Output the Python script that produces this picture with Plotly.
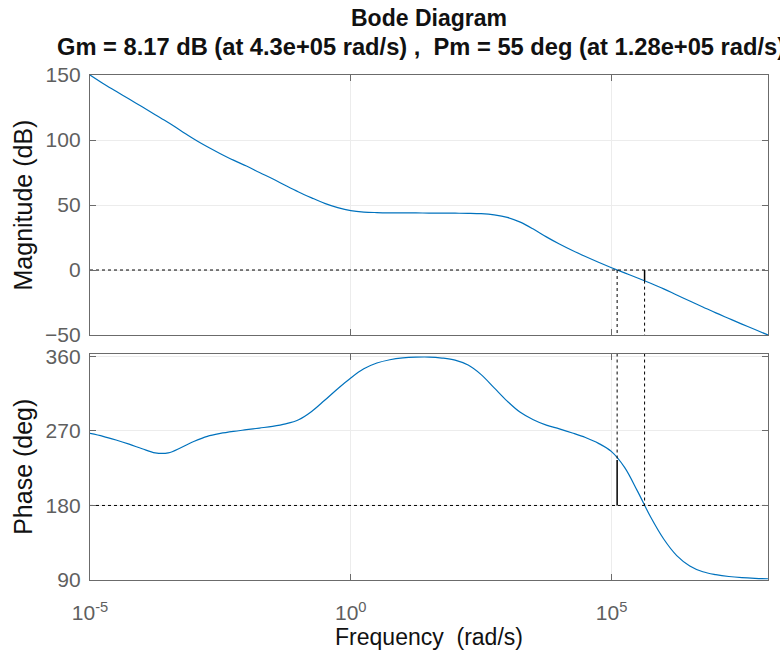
import plotly.graph_objects as go
from plotly.subplots import make_subplots

# ---- data (every quarter decade) ----
log_freq = [-5.0, -4.75, -4.5, -4.25, -4.0, -3.75, -3.5, -3.25, -3.0, -2.75, -2.5, -2.25, -2.0,
            -1.75, -1.5, -1.25, -1.0, -0.75, -0.5, -0.25, 0.0, 0.25, 0.5, 0.75, 1.0, 1.25, 1.5,
            1.75, 2.0, 2.25, 2.5, 2.75, 3.0, 3.25, 3.5, 3.75, 4.0, 4.25, 4.5, 4.75, 5.0, 5.25,
            5.5, 5.75, 6.0, 6.25, 6.5, 6.75, 7.0, 7.25, 7.5, 7.75, 8.0]
magnitude_db = [150, 143.5, 137.5, 131.5, 125.5, 119.5, 113.5, 107, 100.5, 94.8, 89.5, 84.5, 80,
                75, 70.2, 65, 60, 55.5, 51.3, 48, 45.7, 44.6, 44.2, 44.0, 43.9, 43.9, 43.8,
                43.8, 43.7, 43.6, 43.3, 42.4, 40.5, 36.8, 31.5, 25.5, 20, 15, 10.4, 6, 1.8, -2.2,
                -6.1, -10.2, -14.5, -19.2, -23.8, -28.4, -33, -37.3, -41.6, -45.8, -50]
phase_deg = [267, 263.5, 259, 254, 248.5, 243.5, 243.5, 250, 257.5, 263.5, 267, 269.5, 271.5,
             273.5, 275.5, 278.5, 283.5, 293.5, 307, 321, 334, 345, 352, 356, 358.2, 359.1, 359.2,
             358, 355.5, 349.5, 338, 322, 306, 292.5, 283.5, 277, 272.5, 267.5, 262, 255, 245, 226,
             197, 166, 139.5, 119.5, 107, 100, 96.5, 94.2, 92.8, 92, 91.5]

gain_margin_db = 8.17
gain_cross_freq = 4.3e5
phase_margin_deg = 55
phase_cross_freq = 1.28e5

freq = [10 ** v for v in log_freq]

mag_range = [-50, 150]
phase_range = [90, 363.5]
mag_ticks = [-50, 0, 50, 100, 150]
phase_ticks = [90, 180, 270, 360]
freq_ticks = [1e-5, 1e0, 1e5]
freq_ticktext = ["10<sup>-5</sup>", "10<sup>0</sup>", "10<sup>5</sup>"]

title_line1 = "Bode Diagram"
title_line2 = "Gm = 8.17 dB (at 4.3e+05 rad/s) ,  Pm = 55 deg (at 1.28e+05 rad/s)"

# ---- figure ----
fig = make_subplots(rows=2, cols=1, shared_xaxes=True)

blue = "#0072BD"
curve_line = dict(color=blue, width=1.2, shape="spline", smoothing=1.0)
fig.add_trace(go.Scatter(x=freq, y=magnitude_db, mode="lines", line=curve_line,
                         showlegend=False, hoverinfo="skip"), row=1, col=1)
fig.add_trace(go.Scatter(x=freq, y=phase_deg, mode="lines", line=curve_line,
                         showlegend=False, hoverinfo="skip"), row=2, col=1)

# margin reference lines
dot = dict(color="black", width=1, dash="dot")
solid = dict(color="black", width=1.5)
xlo, xhi = freq[0], freq[-1]
fig.add_trace(go.Scatter(x=[xlo, xhi], y=[0, 0], mode="lines", line=dot, showlegend=False, hoverinfo="skip"), row=1, col=1)
fig.add_trace(go.Scatter(x=[xlo, xhi], y=[180, 180], mode="lines", line=dot, showlegend=False, hoverinfo="skip"), row=2, col=1)
fig.add_trace(go.Scatter(x=[phase_cross_freq, phase_cross_freq], y=[0, mag_range[0]], mode="lines", line=dot,
                         showlegend=False, hoverinfo="skip"), row=1, col=1)
fig.add_trace(go.Scatter(x=[gain_cross_freq, gain_cross_freq], y=[-gain_margin_db, mag_range[0]], mode="lines", line=dot,
                         showlegend=False, hoverinfo="skip"), row=1, col=1)
fig.add_trace(go.Scatter(x=[gain_cross_freq, gain_cross_freq], y=[0, -gain_margin_db], mode="lines", line=solid,
                         showlegend=False, hoverinfo="skip"), row=1, col=1)
fig.add_trace(go.Scatter(x=[phase_cross_freq, phase_cross_freq], y=[phase_range[1], 180 + phase_margin_deg], mode="lines",
                         line=dot, showlegend=False, hoverinfo="skip"), row=2, col=1)
fig.add_trace(go.Scatter(x=[phase_cross_freq, phase_cross_freq], y=[180 + phase_margin_deg, 180], mode="lines",
                         line=solid, showlegend=False, hoverinfo="skip"), row=2, col=1)
fig.add_trace(go.Scatter(x=[gain_cross_freq, gain_cross_freq], y=[phase_range[1], 180], mode="lines", line=dot,
                         showlegend=False, hoverinfo="skip"), row=2, col=1)

FONT = "Liberation Sans, Arial, sans-serif"
axis_color = "#6b6b6b"
tick_font = dict(family=FONT, size=21, color="#5f5f5f")
grid_color = "#ececec"

common = dict(showline=True, linecolor=axis_color, linewidth=1.3, mirror="ticks", ticks="inside", ticklen=6,
              tickcolor=axis_color, showgrid=True, gridcolor=grid_color, gridwidth=1, zeroline=False,
              tickfont=tick_font, automargin=False)

fig.update_xaxes(type="log", range=[-5, 8], tickvals=freq_ticks, ticktext=freq_ticktext, **common)
fig.update_xaxes(showticklabels=False, row=1, col=1)
fig.update_xaxes(ticklabelstandoff=14,
                 title=dict(text="Frequency  (rad/s)", font=dict(family=FONT, size=23, color="#111111"), standoff=4),
                 row=2, col=1)

ytitle_font = dict(family=FONT, size=25, color="#111111")
fig.update_yaxes(range=mag_range, tickvals=mag_ticks, domain=[0.4851, 1.0], ticklabelstandoff=4,
                 title=dict(text="Magnitude (dB)", font=ytitle_font, standoff=5), row=1, col=1, **common)
fig.update_yaxes(range=phase_range, tickvals=phase_ticks, domain=[0.0, 0.4485], ticklabelstandoff=4,
                 title=dict(text="Phase (deg)", font=ytitle_font, standoff=5), row=2, col=1, **common)

fig.add_annotation(text="<b>" + title_line1 + "</b>", xref="paper", yref="paper", x=0.5, y=1, yshift=57,
                   showarrow=False, xanchor="center", yanchor="middle",
                   font=dict(family=FONT, size=23, color="#111111"))
fig.add_annotation(text="<b>" + title_line2 + "</b>", xref="paper", yref="paper", x=0.5, y=1, yshift=28,
                   xshift=-8, showarrow=False, xanchor="center", yanchor="middle",
                   font=dict(family=FONT, size=23.7, color="#111111"))

fig.update_layout(width=780, height=657, margin=dict(l=90, r=12, t=75, b=77),
                  plot_bgcolor="white", paper_bgcolor="white")

fig.write_html("out.html", config={"displayModeBar": False},
               post_script="document.body.style.margin='0';")
